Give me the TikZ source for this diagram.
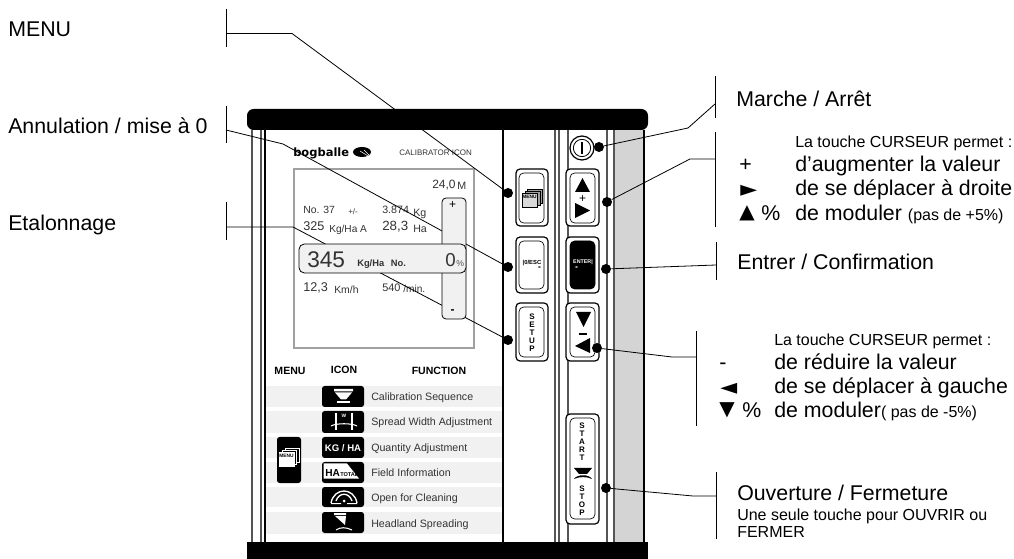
\documentclass[tikz,border=0pt]{standalone}
\usepackage{fontspec}
\setmainfont{Liberation Sans}
\newfontfamily\symfont{DejaVu Sans}
\newcommand{\fs}[1]{\fontsize{#1}{#1}\selectfont}
\definecolor{panelgray}{HTML}{D4D4D4}
\definecolor{rowgray}{HTML}{F0F1F0}
\definecolor{linegray}{HTML}{555555}
\definecolor{boxgray}{HTML}{A0A0A0}
\definecolor{textgray}{HTML}{333333}
\tikzset{
    lbl/.style={anchor=base west, inner sep=0pt},
    biglabel/.style={lbl, font=\fs{16}},
    smalllabel/.style={lbl, font=\fs{12}},
    symlabel/.style={lbl, font=\symfont\fs{15}},
    widesymlabel/.style={lbl, font=\symfont\fs{16.5}},
    screentext/.style={lbl, text=textgray},
    rowlabel/.style={lbl, text=textgray, font=\fs{8}},
    headlabel/.style={anchor=base, inner sep=0pt, font=\bfseries\fs{7.9}, text=black},
    keytext/.style={inner sep=0pt, font=\bfseries\fs{6}, align=center},
    keyouter/.style={draw, line width=0.9pt, rounded corners=3pt, fill=white},
    keyinner/.style={draw, line width=0.5pt, rounded corners=3.5pt, fill=white},
    iconbox/.style={fill=black, rounded corners=2pt},
    dotmark/.style={circle, fill=black, inner sep=0pt, minimum size=7.5pt},
    leaderline/.style={line width=0.6pt},
    grayline/.style={linegray, line width=0.9pt},
    blackline/.style={black, line width=1.3pt},
    whiteline/.style={white, line width=0.8pt},
    menupage/.style={draw, line width=0.5pt}
}
\begin{document}
\begin{tikzpicture}[x=0.75pt, y=-0.75pt]
    \useasboundingbox (0,0) rectangle (1014,559);

    \fill [panelgray] (614,130) rectangle (644,542);
    \draw [grayline] (252,130) -- (252,542);
    \draw [grayline] (261,130) -- (261,542);
    \draw [blackline] (265,130) -- (265,542);
    \draw [blackline] (503,130) -- (503,542);
    \draw [grayline] (555,130) -- (555,542);
    \draw [grayline] (559,130) -- (559,542);
    \draw [grayline] (568,130) -- (568,542);
    \draw [grayline] (607,130) -- (607,542);
    \draw [grayline] (614,130) -- (614,542);
    \draw [blackline] (644,130) -- (644,542);

    \fill [rowgray] (266,386) rectangle (502,407);
    \fill [rowgray] (266,411) rectangle (502,433);
    \fill [rowgray] (266,437) rectangle (502,458);
    \fill [rowgray] (266,462) rectangle (502,483);
    \fill [rowgray] (266,487) rectangle (502,507);
    \fill [rowgray] (266,512) rectangle (502,534);

    \draw [boxgray, line width=1pt] (294,169) rectangle (474,348);

    \node [lbl, font=\symfont\bfseries\fs{8.6}] (logotext) at (293,157) {bogballe};
    \fill [black] (362,152) ellipse (9 and 5);
    \draw [white, line width=0.4pt] (360,151) -- (368,156) (364,150) -- (369,155);
    \node [lbl, font=\fs{6}, text=textgray] (calibrator) at (399,156) {CALIBRATOR ICON};

    \node [screentext, font=\fs{9}] (widthvalue) at (432,189) {24,0};
    \node [screentext, font=\fs{8}] (widthunit) at (457,190) {M};
    \node [screentext, font=\fs{7.8}] (numberlabel) at (303,214) {No. 37};
    \node [screentext, font=\fs{6}] (plusminus) at (348,215) {+/-};
    \node [screentext, font=\fs{8}] (kgvalue) at (382,214) {3.874};
    \node [screentext, font=\fs{8}] (kgunit) at (413,217) {Kg};
    \node [screentext, font=\fs{9.5}] (ratevalue) at (303,231) {325};
    \node [screentext, font=\fs{7.6}] (rateunit) at (329,233) {Kg/Ha A};
    \node [screentext, font=\fs{10}] (areavalue) at (382,231) {28,3};
    \node [screentext, font=\fs{8}] (areaunit) at (413,233) {Ha};
    \node [screentext, font=\fs{9.5}] (speedvalue) at (303,292) {12,3};
    \node [screentext, font=\fs{7.8}] (speedunit) at (334,294) {Km/h};
    \node [screentext, font=\fs{8.2}] (pto) at (382,292) {540};
    \node [screentext, font=\fs{7.6}] (ptounit) at (403,293) {/min.};

    \node [headlabel] (headmenu) at (290,375) {MENU};
    \node [headlabel] (headicon) at (344,374) {ICON};
    \node [headlabel] (headfunction) at (439,375) {FUNCTION};

    \fill [iconbox] (322,386) rectangle (364,407);
    \fill [iconbox] (322,411) rectangle (364,433);
    \fill [iconbox] (322,437) rectangle (364,458);
    \fill [iconbox] (322,462) rectangle (364,483);
    \fill [iconbox] (322,487) rectangle (364,507);
    \fill [iconbox] (322,512) rectangle (364,533);
    \fill [iconbox] (277,437) rectangle (301,483);

    \fill [white] (334,389) rectangle (353,391.5) (335,392.5) -- (352,392.5) -- (346,399.5) -- (341,399.5) -- cycle;
    \fill [white] (337,401) rectangle (350,403);
    \draw [whiteline] (336,413) -- (336,430);
    \draw [whiteline] (352,413) -- (352,430);
    \draw [whiteline] (331,426) .. controls (336,423) and (352,423) .. (357,426);
    \node [inner sep=0pt, text=white, font=\bfseries\fs{3.6}] (widthmark) at (344,415.5) {W};
    \node [inner sep=0pt, text=white, font=\bfseries\fs{7.2}] (kgha) at (343,448) {KG / HA};
    \fill [white] (323.5,463.5) -- (347,463.5) -- (359,478.5) -- (323.5,478.5) -- cycle;
    \node [lbl, font=\bfseries\fs{7.6}] (hatext) at (325,476) {HA};
    \node [lbl, font=\bfseries\fs{4.2}] (totaltext) at (340,477) {TOTAL};
    \draw [white, line width=1pt] (331,503) .. controls (334,487) and (354,487) .. (357,503);
    \draw [white, line width=1pt] (336,501) .. controls (339,492) and (349,492) .. (352,501);
    \fill [white] (331,503) rectangle (341,504) (347,503) rectangle (357,504) (344,501) circle (1.5);
    \fill [white] (334,513) rectangle (346,515) (335,516) -- (346,516) -- (345,525) -- cycle;
    \draw [whiteline] (336,530) .. controls (340,527) and (346,527) .. (352,530);

    \draw [menupage, white] (285,448) rectangle (299,462);
    \draw [menupage, white, fill=black] (282,450) rectangle (296,464);
    \draw [menupage, white, fill=white] (279,452) rectangle (294,466);
    \node [inner sep=0pt, font=\bfseries\fs{3.6}] (menuiconlabel) at (286.5,456) {MENU};

    \node [rowlabel] (rowcalibration) at (371,401) {Calibration Sequence};
    \node [rowlabel] (rowspread) at (371,426) {Spread Width Adjustment};
    \node [rowlabel] (rowquantity) at (371,451) {Quantity Adjustment};
    \node [rowlabel] (rowfield) at (371,476) {Field Information};
    \node [rowlabel] (rowopen) at (371,501) {Open for Cleaning};
    \node [rowlabel] (rowheadland) at (371,527) {Headland Spreading};

    \draw [keyouter] (516,169) rectangle (548,226);
    \draw [keyinner] (519,173) rectangle (544,223);
    \draw [keyouter] (516,237) rectangle (548,293);
    \draw [keyinner] (519,241) rectangle (544,289);
    \draw [keyouter] (516,303) rectangle (548,361);
    \draw [keyinner] (519,307) rectangle (544,357);
    \draw [keyouter] (566,169) rectangle (599,226);
    \draw [keyinner] (570,173) rectangle (595,223);
    \draw [keyouter] (566,237) rectangle (599,293);
    \draw [keyinner, fill=black] (570,241) rectangle (595,289);
    \draw [keyouter] (566,303) rectangle (599,361);
    \draw [keyinner] (570,307) rectangle (595,357);
    \draw [keyouter] (566,414) rectangle (599,524);
    \draw [keyinner] (570,418) rectangle (595,519);

    \draw [menupage, fill=boxgray] (527,189) rectangle (542,203);
    \draw [menupage, fill=boxgray] (525,191) rectangle (540,205);
    \draw [menupage, fill=white!85!black] (522,193) rectangle (537,207);
    \node [inner sep=0pt, font=\bfseries\fs{3.6}] (menukeylabel) at (529.5,197) {MENU};
    \node [inner sep=0pt, font=\bfseries\fs{4.4}] (esckeylabel) at (532,263) {|0/ESC};
    \node [inner sep=0pt, font=\symfont\fs{2.8}] (esckeyarrow) at (540,268) {►};
    \node [keytext] (setupkeylabel) at (532,332.5) {S\\E\\T\\U\\P};

    \fill (575,192) -- (590,192) -- (582.5,178) -- cycle;
    \node [inner sep=0pt, font=\fs{9}] (plussign) at (582.5,199) {+};
    \fill (575,203) -- (575,218) -- (590,210.5) -- cycle;
    \node [inner sep=0pt, text=white, font=\bfseries\fs{4}] (enterkeylabel) at (583,262) {ENTER|};
    \node [inner sep=0pt, text=white, font=\symfont\fs{2.8}] (enterkeyarrow) at (576,268) {◄};
    \fill (576,312) -- (591,312) -- (583.5,327) -- cycle;
    \fill (579,333) rectangle (587,335);
    \fill (575,346) -- (590,338) -- (590,353) -- cycle;
    \node [keytext, anchor=north] (startkeylabel) at (582,423) {S\\T\\A\\R\\T};
    \fill (574,468) -- (592,468) -- (587,474) -- (579,474) -- cycle;
    \fill (574,479) .. controls (577,474) and (589,474) .. (592,479) .. controls (588,476.5) and (578,476.5) .. (574,479) -- cycle;
    \node [keytext, anchor=north] (stopkeylabel) at (582,486) {S\\T\\O\\P};

    \node [circle, draw, line width=0.9pt, fill=white, minimum size=18pt, inner sep=0pt] (powerring) at (582,148) {};
    \node [circle, draw, line width=0.6pt, minimum size=13pt, inner sep=0pt] (powerinner) at (582,148) {};
    \draw [line width=1.2pt] (powerinner.north) ++(0,3) -- ++(0,12);

    \node [dotmark] (menudot) at (508,193) {};
    \node [dotmark] (escdot) at (508,267) {};
    \node [dotmark] (setupdot) at (508,340) {};
    \node [dotmark] (powerdot) at (599,147) {};
    \node [dotmark] (updot) at (607,202) {};
    \node [dotmark] (enterdot) at (606,269) {};
    \node [dotmark] (downdot) at (597,348) {};
    \node [dotmark] (startdot) at (606,488) {};

    \coordinate (menuanchor) at (226,33.5);
    \coordinate (menubend) at (292,33.5);
    \coordinate (escanchor) at (226,130);
    \coordinate (escbend) at (283,144);
    \coordinate (setupanchor) at (226,227);
    \coordinate (setupbend) at (293,227);
    \coordinate (poweranchor) at (715,104);
    \coordinate (powerbend) at (688,128);
    \coordinate (upanchor) at (715,159);
    \coordinate (upbend) at (690,159);
    \coordinate (enteranchor) at (716,265);
    \coordinate (downanchor) at (696,357);
    \coordinate (downbend) at (672,357);
    \coordinate (startanchor) at (716,496);
    \coordinate (startbend) at (693,496);

    \draw [leaderline] (menuanchor |- 0,9) -- (menuanchor |- 0,47);
    \draw [leaderline] (escanchor |- 0,106) -- (escanchor |- 0,143);
    \draw [leaderline] (setupanchor |- 0,202) -- (setupanchor |- 0,240);
    \draw [leaderline] (poweranchor |- 0,76) -- (poweranchor |- 0,118);
    \draw [leaderline] (upanchor |- 0,132) -- (upanchor |- 0,227);
    \draw [leaderline] (enteranchor |- 0,242) -- (enteranchor |- 0,280);
    \draw [leaderline] (downanchor |- 0,331) -- (downanchor |- 0,426);
    \draw [leaderline] (startanchor |- 0,472) -- (startanchor |- 0,539);

    \draw [leaderline] (menuanchor) -- (menubend) -- (menudot);
    \draw [leaderline] (escanchor) -- (escbend) -- (escdot);
    \draw [leaderline] (setupanchor) -- (setupbend) -- (setupdot);
    \draw [leaderline] (poweranchor) -- (powerbend) -- (powerdot);
    \draw [leaderline] (upanchor) -- (upbend) -- (updot);
    \draw [leaderline] (enteranchor) -- (enterdot);
    \draw [leaderline] (downanchor) -- (downbend) -- (downdot);
    \draw [leaderline] (startanchor) -- (startbend) -- (startdot);

    \fill [black, rounded corners=5pt] (247,130) -- (247,109) -- (648,109) -- (648,130) -- cycle;
    \fill [black] (247,542) rectangle (648,559);

    \draw [line width=0.6pt, fill=rowgray, rounded corners=3pt] (442,198) rectangle (466,319);
    \node [inner sep=0pt, font=\fs{9}] (sliderplus) at (452.5,205) {+};
    \node [inner sep=0pt, font=\bfseries\fs{9}] (sliderminus) at (452.5,312) {-};
    \draw [line width=0.6pt, fill=rowgray, rounded corners=4pt] (299,244) rectangle (466,273);
    \node [screentext, font=\fs{17}] (ratebig) at (307,268) {345};
    \node [screentext, font=\bfseries\fs{7}] (ratebigunit) at (357,267) {Kg/Ha\hspace{3pt} No.};
    \node [screentext, font=\fs{14}] (percentvalue) at (445,267) {0};
    \node [screentext, font=\fs{6.5}, text=linegray] (percentsign) at (456,267) {\%};

    \node [biglabel] (labelmenu) at (8,37) {MENU};
    \node [biglabel] (labelesc) at (8,134) {Annulation / mise à 0};
    \node [biglabel] (labelsetup) at (8,231) {Etalonnage};
    \node [biglabel] (labelpower) at (736,107) {Marche / Arrêt};
    \node [smalllabel] (uptitle) at (795,148) {La touche CURSEUR permet :};
    \node [biglabel] (upplus) at (739,172) {+};
    \node [biglabel] (upline) at (795,172) {d’augmenter la valeur};
    \node [widesymlabel] (upright) at (740,197) {►};
    \node [biglabel] (upmove) at (795,196) {de se déplacer à droite};
    \node [symlabel] (upperc) at (739,219) {▲};
    \node [biglabel] (uppercsign) at (761,221) {\%};
    \node [biglabel] (upmodule) at (795,221) {de moduler {\fs{12}(pas de +5\%)}};
    \node [biglabel] (labelenter) at (737,270) {Entrer / Confirmation};
    \node [smalllabel] (downtitle) at (774,346) {La touche CURSEUR permet :};
    \node [biglabel] (downminus) at (719,370) {-};
    \node [biglabel] (downline) at (774,370) {de réduire la valeur};
    \node [widesymlabel] (downleft) at (720,395) {◄};
    \node [biglabel] (downmove) at (774,394) {de se déplacer à gauche};
    \node [symlabel] (downperc) at (719,416) {▼};
    \node [biglabel] (downpercsign) at (742,418) {\%};
    \node [biglabel] (downmodule) at (774,418) {de moduler{\fs{12}( pas de -5\%)}};
    \node [biglabel] (labelstart) at (737,500) {Ouverture / Fermeture};
    \node [smalllabel] (startline) at (737,520) {Une seule touche pour OUVRIR ou};
    \node [smalllabel] (startclose) at (737,537) {FERMER};
\end{tikzpicture}
\end{document}
